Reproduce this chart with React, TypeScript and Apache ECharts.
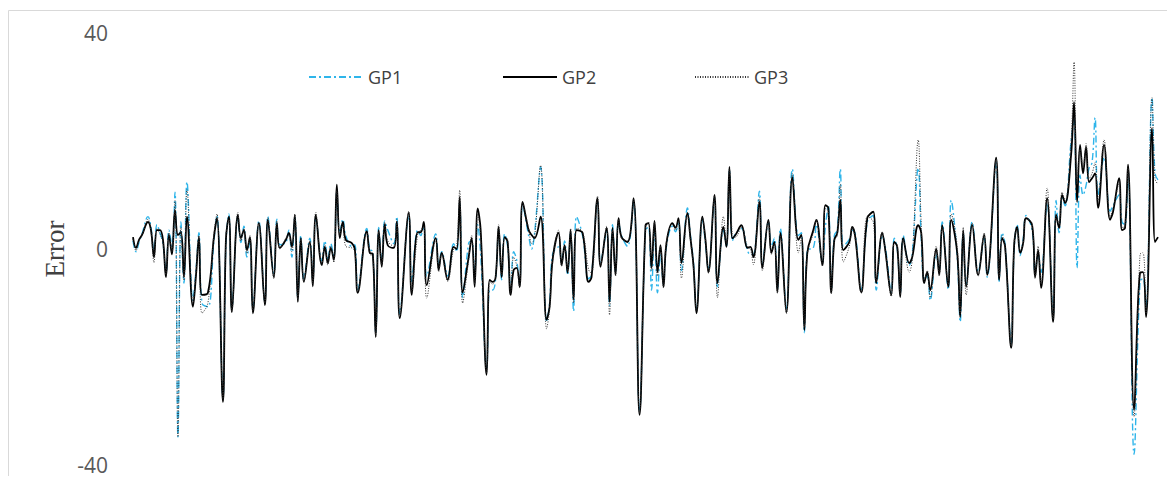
import React, { useEffect, useRef } from "react";
import * as echarts from "echarts";

// sample index (x) of each traced point
const sampleIdx = [
  0, 1, 2, 3, 5, 6, 7, 8, 9, 10,
  11, 12, 13, 14, 15, 16, 17, 18, 20, 21,
  22, 23, 25, 27, 28, 30, 31, 32, 33, 35,
  36, 37, 38, 39, 40, 42, 44, 45, 47, 48,
  49, 51, 52, 53, 54, 55, 56, 57, 59, 60,
  61, 63, 64, 65, 66, 67, 68, 69, 70, 71,
  73, 74, 75, 78, 79, 80, 81, 82, 83, 84,
  85, 87, 88, 89, 92, 93, 95, 96, 97, 98,
  101, 102, 103, 105, 107, 108, 109, 110, 112, 113,
  114, 115, 116, 118, 119, 120, 121, 122, 123, 124,
  125, 126, 127, 128, 129, 130, 132, 133, 134, 136,
  138, 139, 140, 142, 143, 144, 145, 146, 147, 148,
  150, 152, 153, 155, 156, 158, 159, 160, 161, 162,
  163, 165, 167, 169, 171, 172, 173, 174, 175, 176,
  177, 178, 180, 181, 182, 183, 185, 186, 187, 188,
  190, 191, 192, 194, 195, 197, 198, 199, 200, 201,
  203, 205, 206, 207, 209, 210, 212, 213, 214, 215,
  216, 218, 220, 222, 223, 224, 225, 227, 228, 230,
  231, 232, 233, 234, 235, 236, 237, 239, 240, 241,
  243, 245, 247, 248, 250, 251, 253, 254, 255, 256,
  257, 259, 260, 262, 263, 264, 265, 266, 268, 269,
  270, 272, 273, 275, 276, 277, 278, 280, 282, 284,
  285, 288, 289, 290, 291, 293, 294, 295, 296, 297,
  298, 300, 301, 302, 303, 305, 307, 308, 309, 310,
  311, 313, 314, 315, 316, 317, 318, 319, 320, 321,
  322, 324, 326, 327, 329, 330, 331, 332, 334, 336,
  337, 338, 340, 341, 342,
];

const gp1 = [
  1.5, -0.5, 1.2, 2.8, 6, 4, -0.5, 4.5, 3, 1,
  -4.5, 3.5, 0.5, 10.5, -34.8, 5, -6.3, 12.4, -9.5, -4,
  3, -10, -10.7, 1.5, 6.2, -27.5, 1, 6.5, -11, 6,
  1.2, 4.2, -1.5, 1.5, -11, 5.2, -9.8, 6, -4.5, 5.5,
  0.8, 1.2, 3.5, -1.5, 6, -9, 2.5, -5.5, 2, -6,
  5.8, -2.2, 1.5, -2, 1, -1.5, 10.5, 3, 5.5, 2.5,
  0.5, 0.8, -7.5, 3.8, 0, -0.5, -15.5, 4, -2.5, 5.2,
  3.5, 1, 6, -12, 6.2, -6, 3.5, 2.5, 4.5, -5,
  2.8, -3, -0.5, -5, 1, -0.5, 8.5, -9, 1.1, 1.5,
  -4.4, 4.5, -1, -22.5, -7.6, -7.6, -5.5, 3.5, -5.7, 2.8,
  0.5, -8, -0.5, -2, -6.5, 8.2, 2.5, 0, 3, 15.2,
  -13.5, -10, -1, 0.4, -2.5, 1.5, -4.8, 3, -11.5, 6,
  2.5, -5.5, -4.8, 9, -2.5, 3.2, -10.5, 4.5, -4.2, 5.2,
  2.5, 0.5, 8.8, -30, 3.5, 4, -7.6, 3.5, -8.1, -1,
  -6.5, 0.5, 4.2, 3.2, 5, -4, 7.6, 2.5, -2.5, -11.2,
  5.5, 1, -3.8, 9.5, -7, 3.5, 0.5, 14.5, 1.5, 2.8,
  3.8, -0.2, -1, -1, 10.7, -3, 5, 0.5, 2, -7.5,
  3.8, -11, 14.8, 2.5, 3, -15.5, -0.2, 0.2, 4.5, -2.5,
  4, 8, -7.5, 2.5, 3.5, 14.8, 0.5, 1.8, 3.5, 2.8,
  -7.5, 5, 6.2, -7.6, 2.5, 0.5, -8, 2, 0, -8.2,
  2.5, -3, -1, 15, 2, -5.5, -5, -9.5, -1, -4,
  5, -7.5, 9, -1.5, -13.5, 3, -6.5, 5, -4.2, 2,
  -5.2, 16, -6, 3, 0.8, -17.5, 0, 4.5, -1.2, 1.8,
  6.2, 3.5, -4.5, -1, -4.3, 8.5, -12.5, 9, 3, 9.5,
  8, 20, 24, -3.5, 13.7, 10, 11.8, 15, 16, 24.3,
  10, 17, 7, 8, 10, 5, 4.5, 14.5, -38, -6,
  -5.5, -11, 28, 14, 12.8,
];

const gp2 = [
  2.2, 0.2, 1.7, 2.6, 5, 3.5, -1.5, 3.5, 3.5, 1.7,
  -5.2, 2.6, -1, 7.2, 2.6, 3.1, -5.2, 6, -10.7, -5,
  2.2, -8.5, -8.1, 2.2, 5.7, -28.3, 1.7, 6, -11.7, 6.3,
  2, 3.5, -0.2, 2.2, -11.9, 4.8, -10.4, 5.4, -5.2, 4.8,
  0.2, 1.7, 3, 0.4, 6.3, -9.8, 2, -6.1, 1.3, -6.9,
  6.3, -3, 0.4, -2.6, 0.2, -2, 11.9, 2, 5, 1.7,
  1.1, 0, -8.1, 3.3, -0.7, -0.9, -16.3, 3.5, -3.3, 4.6,
  0.7, 0.2, 5, -12.8, 6.7, -8.5, 3.1, 3.1, 5, -6.7,
  2, -3.9, -0.7, -5.7, 0.4, 0, 9.6, -8.1, -1.5, 2,
  -7, 7.5, 3.5, -23.3, -5.7, -6.1, -5.2, 4.1, -5.2, 2.2,
  1.3, -8.5, -3.9, -3.5, -7, 8.7, 3.5, 2.6, 2, 6,
  -13.1, -10.7, -2, 3, -3, 0.7, -4.4, 3.5, -9.4, 3.5,
  3, -6.1, -5.2, 9.4, -3.3, 3.9, -9.8, 3.9, -4.8, 5.7,
  2.2, 1.3, 9.4, -30.7, 4.4, 4.8, -3.5, 5.2, -4.3, 0.7,
  -7, 1.1, 4.8, 3.9, 5.7, -2.6, 6.7, 2, -3, -11.9,
  6, 1.7, -4.3, 10, -6.3, 4.1, 0.4, 15.2, 2, 2.6,
  4.4, 0.2, 0.4, -1.5, 8.7, -3.5, 5.4, -0.7, 1.3, -8,
  3, -11.7, 13.3, 1.7, 2.6, -15, -0.7, 3.5, 5.4, -3,
  8.1, 7.6, -8.1, 1.7, 3, 9.1, -0.2, 1.3, 4.1, 2.2,
  -8, 5.7, 6.9, -6.3, 3, -0.2, -8.5, 1.3, 0.4, -8.9,
  2, -2.6, -1.5, 4.4, 3, -6.3, -4.3, -7.6, 0, -4.8,
  4.4, -7, 5.4, -0.7, -12.6, 3.5, -7, 4.4, -4.8, 2.6,
  -4.8, 16.9, -5.7, 2, 0.4, -18.3, 0.7, 4.1, -0.7, 1.1,
  5.7, 4.4, -5.2, -0.2, -7.2, 9.4, -13.5, 6.3, 3.9, 10,
  8.5, 17.4, 27.2, 8.7, 19.3, 14, 18.9, 12.4, 13.1, 14,
  7.6, 19.3, 5.4, 6.9, 13.1, 3.5, 3.9, 15.6, -29.8, -4.4,
  -4.3, -12.6, 22.4, 1.3, 2.2,
];

const gp3 = [
  1.8, -0.3, 1.5, 2.4, 5.5, 3.2, -2.5, 3.8, 2.8, 1.2,
  -4.8, 3, -0.5, 9, -34.8, 4, -5.8, 11, -10, -4.5,
  2.5, -11.9, -10, 2.8, 6.5, -28, 2.2, 5.5, -11.5, 6.8,
  1.5, 3.8, -0.8, 2.5, -11.5, 5, -10, 5.8, -5.5, 5.2,
  0, 2, 2.5, -0.5, 6.5, -9.5, 1.8, -6, 1.5, -6.5,
  6.8, -2.8, 0.8, -3, 0.5, -2.5, 10.8, 2.5, 4.5, 0.5,
  0.2, -0.5, -7.8, 3, -1, -1.2, -16, 3.2, -3, 5,
  1.5, 0.5, 5.5, -12.5, 7, -8, 2.8, 3.5, 4.2, -9.1,
  1.5, -4.2, -1, -6, 0, 0.5, 10.9, -10, -2, 2.5,
  -6.5, 6.5, 2.5, -23, -6, -6.5, -5, 4.5, -4.8, 2,
  1.8, -8.2, -1.5, -3, -7.2, 8.5, 3.8, 1, 2.2, 15.5,
  -14.8, -11.2, -2.5, 3.5, -3.2, 0.5, -4, 3.8, -10, 3.8,
  3.2, -3.8, -4.5, 9.8, -3, 4.2, -12.2, 3.5, -5, 5.5,
  2, 1.5, 9.2, -30.2, 4, 5, -4, 5, -5, 0.5,
  -7.2, 1.5, 4.5, 3.5, 5.2, -5.4, 6.2, 1.5, -3.5, -11.5,
  5.8, 2, -4.5, 9.8, -9, 6, 1, 14.8, 2.5, 2.2,
  4, 0.5, 0, -2.9, 9.5, -4, 5.2, -1, 1, -8.2,
  2.5, -12, 14, -0.7, 2, -14.5, -1, 3, 5.5, -3.2,
  7.5, 7, -8.3, 1.5, 2.5, 12, -2.4, 0.5, 4, 1.8,
  -8.2, 6, 5, -6, 3.2, -0.5, -8.8, 1, 0.8, -8.5,
  1.8, -4.3, -2, 20.2, 4.5, -6, -4, -9, 0.5, -5,
  4, -6.5, 6.5, 0.5, -12, 4, -8.5, 4.8, -5, 3,
  -4.5, 16.5, -5.2, 2.5, 0, -18, 1.2, 3.8, -0.3, 0.8,
  5.5, 4.8, -5.5, 0.5, -6.5, 11.3, -13, 6.5, 4.5, 10.5,
  9, 20, 34.6, 12, 18.5, 15, 19.5, 13, 14, 16,
  9, 20.2, 6, 7.5, 12, 4, 4.2, 15, -31, -1,
  -0.7, -12, 28, 13, 12,
];

const seriesNames = ["GP1", "GP2", "GP3"];
const yTicks = { min: -40, max: 40, interval: 40 };
const yTitle = "Error";

const pairs = (vals: number[]) => sampleIdx.map((x, i) => [x, vals[i]]);

export default function App() {
  const ref = useRef<HTMLDivElement>(null);

  useEffect(() => {
    if (!ref.current) return;
    const chart = echarts.init(ref.current, undefined, { renderer: "svg" });
    const legendText = {
      fontFamily: "Open Sans",
      fontSize: 18,
      color: "#404040",
    };
    const legendBase = {
      top: 55,
      itemWidth: 54,
      itemHeight: 12,
      itemStyle: { opacity: 0, borderWidth: 0 },
      textStyle: legendText,
    };
    chart.setOption({
      animation: false,
      backgroundColor: "#ffffff",
      grid: { left: 125, right: 9, top: 25, bottom: 19 },
      legend: [
        { ...legendBase, left: 295, data: [seriesNames[0]] },
        { ...legendBase, left: 489, data: [seriesNames[1]] },
        { ...legendBase, left: 681, data: [seriesNames[2]] },
      ],
      graphic: [
        {
          type: "rect",
          shape: { x: 0.5, y: 2.5, width: 2000, height: 1000 },
          style: { fill: "none", stroke: "#d9d9d9", lineWidth: 1 },
          silent: true,
          z: -1,
        },
        {
          type: "text",
          x: 47,
          y: 241,
          rotation: Math.PI / 2,
          style: {
            text: yTitle,
            fontFamily: "Liberation Serif",
            fontSize: 27,
            fill: "#404040",
            align: "center",
            verticalAlign: "middle",
          },
        },
      ],
      xAxis: {
        type: "value",
        min: 0,
        max: 342,
        show: false,
      },
      yAxis: {
        type: "value",
        min: yTicks.min,
        max: yTicks.max,
        interval: yTicks.interval,
        axisLine: { show: false },
        axisTick: { show: false },
        splitLine: { show: false },
        axisLabel: {
          margin: 25,
          fontFamily: "Open Sans",
          fontSize: 21,
          color: "#595959",
        },
      },
      series: [
        {
          name: seriesNames[0],
          type: "line",
          data: pairs(gp1),
          symbol: "none",
          smooth: 0.4,
          color: "#2fb5ea",
          lineStyle: { color: "#2fb5ea", width: 1.4, type: [7, 3, 2, 3] },
          z: 2,
        },
        {
          name: seriesNames[1],
          type: "line",
          data: pairs(gp2),
          symbol: "none",
          smooth: 0.4,
          color: "#000000",
          lineStyle: { color: "#000000", width: 1.8, type: "solid" },
          z: 3,
        },
        {
          name: seriesNames[2],
          type: "line",
          data: pairs(gp3),
          symbol: "none",
          smooth: 0.4,
          color: "#333333",
          lineStyle: { color: "#333333", width: 1, type: [1, 1.5] },
          z: 4,
        },
      ],
    });
    return () => chart.dispose();
  }, []);

  return (
    <div
      ref={ref}
      style={{ width: 1159, height: 476, marginBottom: -8 }}
    />
  );
}
